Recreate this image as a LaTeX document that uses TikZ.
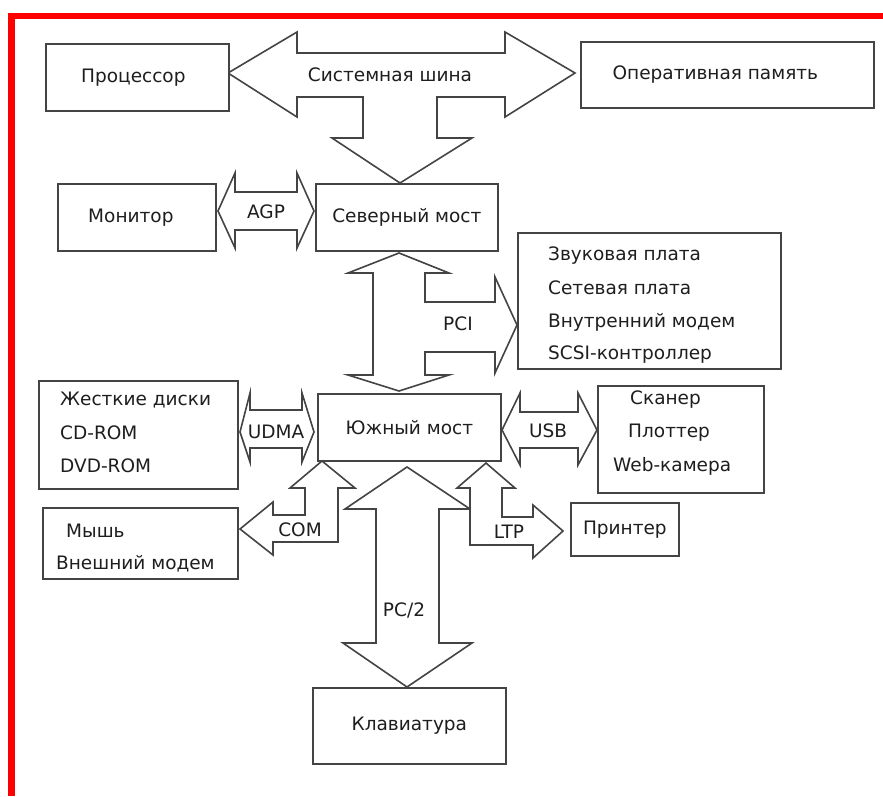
\documentclass[tikz,border=0pt]{standalone}
\usepackage{fontspec}
\setmainfont{DejaVu Sans}
\usetikzlibrary{calc}
\definecolor{linecol}{HTML}{444444}
\definecolor{txtcol}{HTML}{1E1E1E}
\definecolor{framered}{HTML}{FF0000}
\tikzset{
  box/.style={draw=linecol, line width=1.7pt, fill=white, inner sep=0pt,
    anchor=north west, font=\lbl, text=txtcol},
  blockarrow/.style={draw=linecol, line width=1.6pt, fill=white, line join=miter},
  lbltext/.style={font=\lbl, text=txtcol, inner sep=0pt},
  listtext/.style={font=\lbl, text=txtcol, inner sep=0pt, anchor=west},
}
\newcommand{\lbl}{\fontsize{18.5}{22}\selectfont}
\begin{document}
\begin{tikzpicture}[x=1pt, y=-1pt]
\useasboundingbox (0,0) rectangle (883,796);
% red frame (top and left)
\fill[framered] (8,13) rectangle (883,19);
\fill[framered] (8,13) rectangle (15,796);

% ---------- block arrows ----------
% system bus with branch down to north bridge
\draw[blockarrow] (228,73) -- (297,32) -- (297,53) -- (505,53) -- (505,32)
  -- (575,73) -- (505,117) -- (505,97) -- (437,97) -- (437,138) -- (472,138)
  -- (400,183) -- (332,138) -- (363,138) -- (363,97) -- (297,97) -- (297,117) -- cycle;
% AGP
\draw[blockarrow] (218,211) -- (235,173) -- (235,192) -- (297,192) -- (297,173)
  -- (314,211) -- (297,248) -- (297,230) -- (235,230) -- (235,248) -- cycle;
% north bridge <-> south bridge with PCI branch
\draw[blockarrow] (399,253) -- (449,273) -- (425,273) -- (425,302) -- (495,302)
  -- (495,277) -- (517,325) -- (495,373) -- (495,352) -- (425,352) -- (425,375)
  -- (449,375) -- (399,391) -- (348,375) -- (373,375) -- (373,273) -- (348,273) -- cycle;
% UDMA
\draw[blockarrow] (240,432) -- (250,393) -- (250,410) -- (302,410) -- (302,393)
  -- (314,432) -- (302,462) -- (302,448) -- (250,448) -- (250,462) -- cycle;
% USB
\draw[blockarrow] (502,430) -- (520,393) -- (520,412) -- (578,412) -- (578,393)
  -- (597,430) -- (578,465) -- (578,448) -- (520,448) -- (520,465) -- cycle;
% COM
\draw[blockarrow] (322,461) -- (355,488) -- (338,488) -- (338,542) -- (273,542)
  -- (273,555) -- (240,529) -- (273,502) -- (273,515) -- (305,515) -- (305,488)
  -- (290,488) -- cycle;
% PS/2
\draw[blockarrow] (407,467) -- (470,509) -- (439,509) -- (439,643) -- (472,643)
  -- (407,687) -- (343,643) -- (376,643) -- (376,509) -- (345,509) -- cycle;
% LTP
\draw[blockarrow] (486,463) -- (515,488) -- (502,488) -- (502,517) -- (533,517)
  -- (533,505) -- (563,531) -- (533,558) -- (533,545) -- (470,545) -- (470,488)
  -- (457,488) -- cycle;

% ---------- boxes ----------
\node[box, minimum width=183pt, minimum height=67pt] (proc) at (45,43) {Процессор\hspace*{8pt}};
\node[box, minimum width=293pt, minimum height=66pt] (ram) at (580,41) {Оперативная память\hspace*{24pt}};
\node[box, minimum width=158pt, minimum height=67pt] (mon) at (57,183) {Монитор\hspace*{12pt}};
\node[box, minimum width=182pt, minimum height=67pt] (nb) at (315,183) {Северный мост};
\node[box, minimum width=263pt, minimum height=136pt] (pcibox) at (517,232) {};
\node[box, minimum width=199pt, minimum height=108pt] (hdd) at (38,380) {};
\node[box, minimum width=183pt, minimum height=67pt] (sb) at (317,393) {Южный мост};
\node[box, minimum width=166pt, minimum height=107pt] (scan) at (597,385) {};
\node[box, minimum width=195pt, minimum height=71pt] (mouse) at (42,507) {};
\node[box, minimum width=108pt, minimum height=53pt] (printer) at (570,502) {Принтер};
\node[box, minimum width=193pt, minimum height=76pt] (kbd) at (312,687) {Клавиатура};

% ---------- list texts ----------
\node[listtext] (pci1) at (548,256) {Звуковая плата};
\node[listtext] (pci2) at (548,288) {Сетевая плата};
\node[listtext] (pci3) at (548,322) {Внутренний модем};
\node[listtext] (pci4) at (548,355) {SCSI-контроллер};

\node[listtext] (hdd1) at (60,400) {Жесткие диски};
\node[listtext] (hdd2) at (60,433) {CD-ROM};
\node[listtext] (hdd3) at (60,466) {DVD-ROM};

\node[listtext] (scan1) at (630,400) {Сканер};
\node[listtext] (scan2) at (628,433) {Плоттер};
\node[listtext] (scan3) at (613,466) {Web-камера};

\node[listtext] (mouse1) at (66,531) {Мышь};
\node[listtext] (mouse2) at (56,564) {Внешний модем};

% ---------- arrow labels ----------
\node[lbltext] (lbus) at (390,75) {Системная шина};
\node[lbltext] (lagp) at (266,212) {AGP};
\node[lbltext] (lpci) at (458,324) {PCI};
\node[lbltext] (ludma) at (276,432) {UDMA};
\node[lbltext] (lusb) at (548,431) {USB};
\node[lbltext] (lcom) at (300,530) {COM};
\node[lbltext] (lltp) at (509,532) {LTP};
\node[lbltext] (lps) at (404,610) {PC/2};
\end{tikzpicture}
\end{document}
